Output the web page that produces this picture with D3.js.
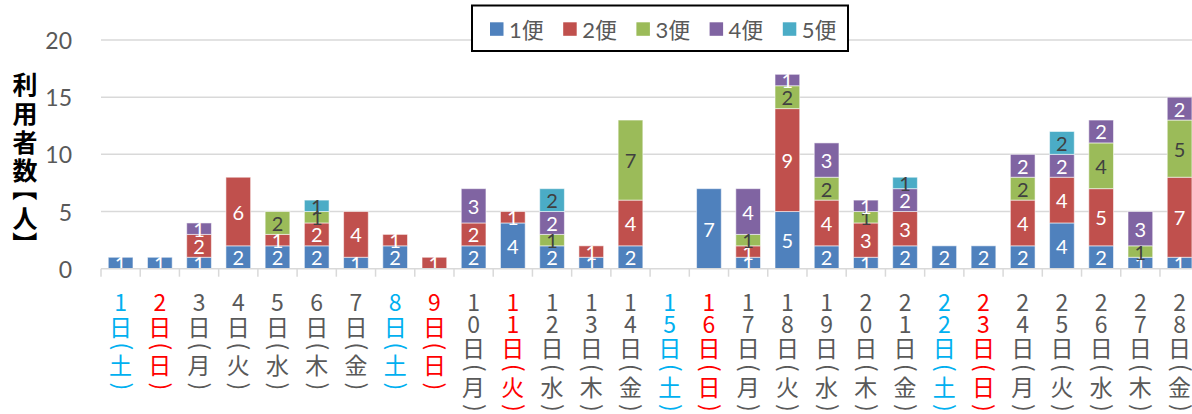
<!DOCTYPE html>
<html>
<head>
<meta charset="utf-8">
<script src="https://cdn.jsdelivr.net/npm/d3@7"></script>
<style>
  body { margin: 0; background: #fff; }
  svg { display: block; }
</style>
</head>
<body>
<svg id="chart" width="1192" height="414"></svg>
<script>
// Daily riders per departure (1便〜5便) for each day of the month
const days = ["1","2","3","4","5","6","7","8","9","10","11","12","13","14",
              "15","16","17","18","19","20","21","22","23","24","25","26","27","28"];
const weekdays = ["土","日","月","火","水","木","金","土","日","月","火","水","木","金",
                  "土","日","月","火","水","木","金","土","日","月","火","水","木","金"];
// "sat" = Saturday, "hol" = Sunday / holiday, "wk" = weekday
const dayTypes = ["sat","hol","wk","wk","wk","wk","wk","sat","hol","wk","hol","wk","wk","wk",
                  "sat","hol","wk","wk","wk","wk","wk","sat","hol","wk","wk","wk","wk","wk"];

const seriesNames = ["1便","2便","3便","4便","5便"];
const flight1 = [1,1,1,2,2,2,1,2,0,2,4,2,1,2,0,7,1,5,2,1,2,2,2,2,4,2,1,1];
const flight2 = [0,0,2,6,1,2,4,1,1,2,1,0,1,4,0,0,1,9,4,3,3,0,0,4,4,5,0,7];
const flight3 = [0,0,0,0,2,1,0,0,0,0,0,1,0,7,0,0,1,2,2,1,0,0,0,2,0,4,1,5];
const flight4 = [0,0,1,0,0,0,0,0,0,3,0,2,0,0,0,0,4,1,3,1,2,0,0,2,2,2,3,2];
const flight5 = [0,0,0,0,0,1,0,0,0,0,0,2,0,0,0,0,0,0,0,0,1,0,0,0,2,0,0,0];
const yTickValues = [0,5,10,15,20];
const yTitle = "利用者数【人】";

// styling
const seriesColors = ["#4f81bd","#c0504d","#9bbb59","#8064a2","#4bacc6"];
const labelColors  = ["#ffffff","#ffffff","#404040","#ffffff","#404040"];
const dayColors = { sat: "#00b0f0", hol: "#ff0000", wk: "#595959" };
const cjkFamily = "'Noto Sans CJK JP'";
const cjk = "'Noto Sans CJK JP', 'Noto Sans', sans-serif";
const num = "Lato, 'Noto Sans CJK JP', sans-serif";

const svg = d3.select("#chart");

// ink box of a glyph, used to turn brackets sideways around their visible centre
const measureCtx = document.createElement("canvas").getContext("2d");
function inkCenter(ch, font) {
  measureCtx.font = font;
  const m = measureCtx.measureText(ch);
  return {
    dx: (m.actualBoundingBoxRight - m.actualBoundingBoxLeft) / 2,
    dy: (m.actualBoundingBoxDescent - m.actualBoundingBoxAscent) / 2
  };
}
// draws ch rotated a quarter turn clockwise with its ink centred on (cx, cy)
function sidewaysGlyph(parent, ch, cx, cy, font) {
  const c = inkCenter(ch, font);
  return parent.append("text")
    .attr("x", 0).attr("y", 0)
    .attr("transform", `translate(${cx},${cy}) rotate(90) translate(${-c.dx},${-c.dy})`)
    .text(ch);
}

const rows = days.map((d, i) => ({
  day: d,
  "1便": flight1[i], "2便": flight2[i], "3便": flight3[i], "4便": flight4[i], "5便": flight5[i]
}));

const x = d3.scaleBand().domain(days).range([101, 1199.2]).paddingInner(0.37).paddingOuter(0.185);
const y = d3.scaleLinear().domain([0, 20]).range([268.7, 40]);
const color = d3.scaleOrdinal().domain(seriesNames).range(seriesColors);
const labelColor = d3.scaleOrdinal().domain(seriesNames).range(labelColors);

// horizontal gridlines
svg.append("g").selectAll("line")
  .data(yTickValues.filter(v => v > 0))
  .join("line")
  .attr("x1", 101).attr("x2", 1192)
  .attr("y1", d => y(d)).attr("y2", d => y(d))
  .attr("stroke", "#d9d9d9").attr("stroke-width", 1.5);

// y axis tick labels
svg.append("g").selectAll("text")
  .data(yTickValues)
  .join("text")
  .attr("x", 72).attr("y", d => y(d))
  .attr("text-anchor", "end").attr("dominant-baseline", "central")
  .attr("font-family", num).attr("font-size", 23).attr("fill", "#595959")
  .text(d => d);

// stacked bars
const stacked = d3.stack().keys(seriesNames)(rows);
const layers = svg.append("g").selectAll("g")
  .data(stacked)
  .join("g")
  .attr("fill", d => color(d.key));

layers.selectAll("rect")
  .data(d => d.map(p => ({ key: d.key, p })))
  .join("rect")
  .filter(d => d.p[1] > d.p[0])
  .attr("x", d => x(d.p.data.day))
  .attr("width", x.bandwidth())
  .attr("y", d => y(d.p[1]))
  .attr("height", d => y(d.p[0]) - y(d.p[1]))
  .attr("stroke", "rgba(255,255,255,0.55)").attr("stroke-width", 1);

// value labels inside segments
const labelLayer = svg.append("g");
stacked.forEach(layer => {
  layer.forEach(p => {
    const v = p[1] - p[0];
    if (v <= 0) return;
    labelLayer.append("text")
      .attr("x", x(p.data.day) + x.bandwidth() / 2)
      .attr("y", y((p[0] + p[1]) / 2))
      .attr("text-anchor", "middle").attr("dominant-baseline", "central")
      .attr("font-family", num).attr("font-size", 20)
      .attr("fill", labelColor(layer.key))
      .text(v);
  });
});

// baseline and category tick marks
svg.append("line")
  .attr("x1", 101).attr("x2", 1192).attr("y1", y(0)).attr("y2", y(0))
  .attr("stroke", "#d9d9d9").attr("stroke-width", 1.5);
const step = x.step();
svg.append("g").selectAll("line")
  .data(d3.range(days.length + 1))
  .join("line")
  .attr("x1", i => 101 + i * step).attr("x2", i => 101 + i * step)
  .attr("y1", y(0)).attr("y2", y(0) + 8)
  .attr("stroke", "#d9d9d9").attr("stroke-width", 1.5);

// stacked vertical category labels: digits, 日, (weekday)
const xFontSize = 23;
const xLabels = svg.append("g")
  .attr("font-family", cjk).attr("font-size", xFontSize);
days.forEach((d, i) => {
  const cx = x(d) + x.bandwidth() / 2;
  const fill = dayColors[dayTypes[i]];
  const g = xLabels.append("g").attr("fill", fill);
  const chars = [...d].map(c => ({ c, t: "digit" }))
    .concat([{ c: "日", t: "kanji" }, { c: "(", t: "open" }, { c: weekdays[i], t: "kanji" }, { c: ")", t: "close" }]);
  const gap = (a, b) => {
    if (a === "digit" && b === "digit") return 21.5;
    if (a === "digit") return 24.5;
    if (b === "open") return 21.5;
    if (a === "open") return 17.3;
    return 21.3;
  };
  let cy = 301;
  chars.forEach((ch, k) => {
    if (k > 0) cy += gap(chars[k - 1].t, ch.t);
    if (ch.t === "open" || ch.t === "close") {
      sidewaysGlyph(g, ch.c, cx, cy, `${xFontSize}px ${cjkFamily}`);
    } else {
      g.append("text")
        .attr("x", cx).attr("y", cy)
        .attr("text-anchor", "middle").attr("dominant-baseline", "central")
        .text(ch.c);
    }
  });
});

// vertical y-axis title
const titleY = [83, 112, 141, 169, 196.5, 216.5, 236];
const titleSize = 25;
const yt = svg.append("g")
  .attr("font-family", cjk).attr("font-size", titleSize).attr("font-weight", 700).attr("fill", "#000");
[...yTitle].forEach((c, k) => {
  if (c === "【" || c === "】") {
    sidewaysGlyph(yt, c, 25, titleY[k], `700 ${titleSize}px ${cjkFamily}`);
  } else {
    yt.append("text")
      .attr("x", 25).attr("y", titleY[k])
      .attr("text-anchor", "middle").attr("dominant-baseline", "central")
      .text(c);
  }
});

// legend
const legend = svg.append("g");
legend.append("rect")
  .attr("x", 472).attr("y", 5.5).attr("width", 376).attr("height", 45.5)
  .attr("fill", "#fff").attr("stroke", "#000").attr("stroke-width", 2);
const items = legend.selectAll("g.item")
  .data(seriesNames)
  .join("g")
  .attr("class", "item")
  .attr("transform", (d, i) => `translate(${490 + i * 73.2}, 0)`);
items.append("rect")
  .attr("x", 0).attr("y", 22.3).attr("width", 13.5).attr("height", 13.5)
  .attr("fill", d => color(d));
items.append("text")
  .attr("x", 19).attr("y", 29.5)
  .attr("dominant-baseline", "central")
  .attr("font-family", num).attr("font-size", 22).attr("fill", "#595959")
  .text(d => d);
</script>
</body>
</html>
